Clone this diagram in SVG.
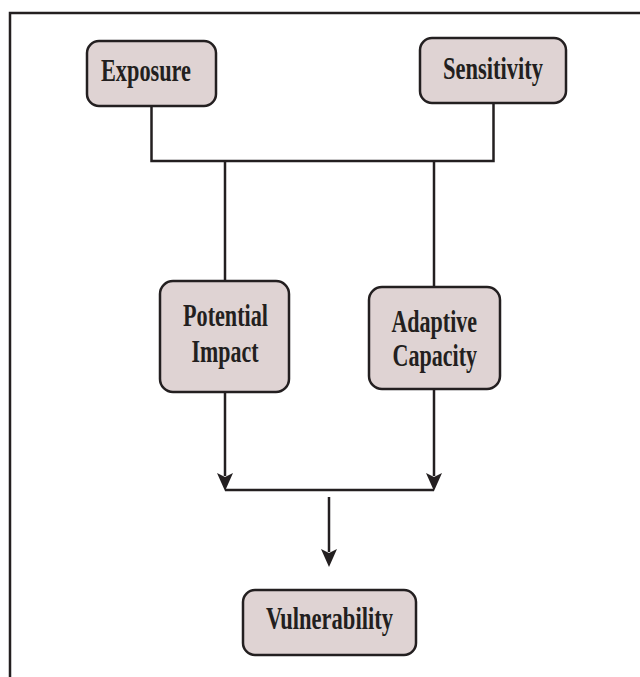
<svg xmlns="http://www.w3.org/2000/svg" width="640" height="677" viewBox="0 0 640 677">
<style>
.box{fill:#dfd3d3;stroke:#231f20;stroke-width:2.5}
.t{font-family:"Liberation Serif","Times New Roman",serif;font-weight:bold;font-size:31px;fill:#231f20}
.ln{fill:none;stroke:#231f20;stroke-width:2.5}
.ah{fill:#231f20}
</style>
<rect width="640" height="677" fill="#ffffff"/>
<path class="ln" d="M10,677 V13 H640"/>
<g id="connectors">
<path class="ln" d="M151.5,106 V161 H493.5 V103"/>
<path class="ln" d="M225,161 V281"/>
<path class="ln" d="M434,161 V287"/>
<path class="ln" d="M225,392 V476"/>
<path class="ln" d="M434,389 V476"/>
<path class="ln" d="M225,490 H434"/>
<path class="ln" d="M329,497 V552"/>
<polygon class="ah" points="217,473 225,477 233,473 225,491"/>
<polygon class="ah" points="426,473 434,477 442,473 434,491"/>
<polygon class="ah" points="321,549 329,553 337,549 329,567"/>
</g>
<g id="exposure">
<rect class="box" x="87" y="41" width="129" height="65" rx="12"/>
<text class="t" x="101" y="81" textLength="90" lengthAdjust="spacingAndGlyphs">Exposure</text>
</g>
<g id="sensitivity">
<rect class="box" x="420" y="38" width="146" height="65" rx="12"/>
<text class="t" x="443" y="79" textLength="100" lengthAdjust="spacingAndGlyphs">Sensitivity</text>
</g>
<g id="potential-impact">
<rect class="box" x="160" y="281" width="129" height="111" rx="13"/>
<text class="t" x="183" y="326" textLength="85" lengthAdjust="spacingAndGlyphs">Potential</text>
<text class="t" x="191.5" y="361.5" textLength="67" lengthAdjust="spacingAndGlyphs">Impact</text>
</g>
<g id="adaptive-capacity">
<rect class="box" x="369" y="287" width="131" height="102" rx="13"/>
<text class="t" x="391.5" y="331.5" textLength="85.5" lengthAdjust="spacingAndGlyphs">Adaptive</text>
<text class="t" x="392.5" y="366" textLength="84.5" lengthAdjust="spacingAndGlyphs">Capacity</text>
</g>
<g id="vulnerability">
<rect class="box" x="243" y="590" width="173" height="65" rx="12"/>
<text class="t" x="266" y="629" textLength="127" lengthAdjust="spacingAndGlyphs">Vulnerability</text>
</g>
</svg>
